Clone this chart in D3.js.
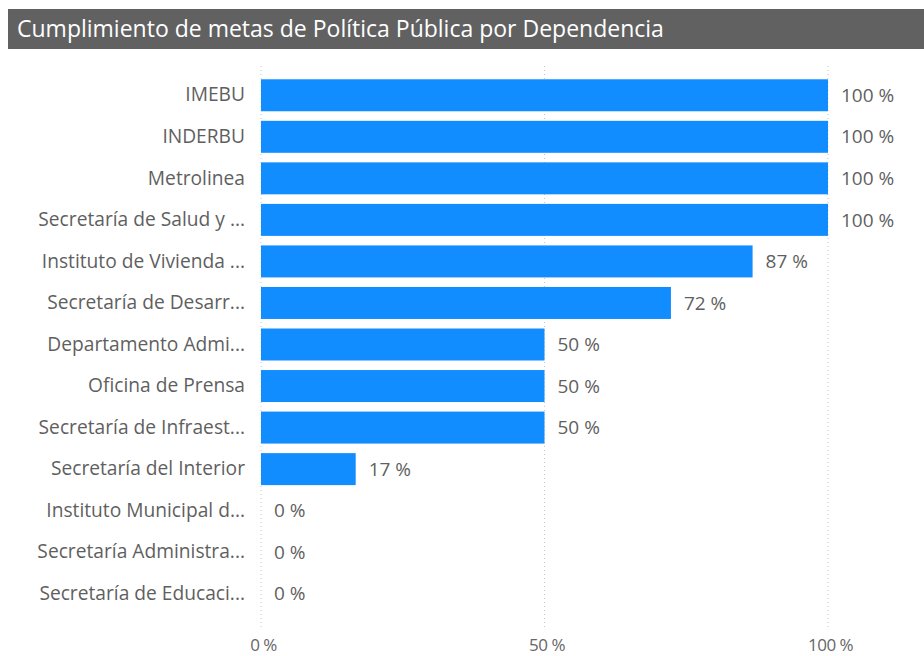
<!DOCTYPE html>
<html>
<head>
<meta charset="utf-8">
<script src="https://cdn.jsdelivr.net/npm/d3@7"></script>
<style>
  html, body { margin: 0; padding: 0; background: #fff; }
  svg { display: block; }
  text { font-family: "Open Sans", "Noto Sans", sans-serif; }
</style>
</head>
<body>
<svg id="chart" width="924" height="656"></svg>
<script>
const title = "Cumplimiento de metas de Política Pública por Dependencia";
const categories = [
  "IMEBU",
  "INDERBU",
  "Metrolinea",
  "Secretaría de Salud y ...",
  "Instituto de Vivienda ...",
  "Secretaría de Desarr...",
  "Departamento Admi...",
  "Oficina de Prensa",
  "Secretaría de Infraest...",
  "Secretaría del Interior",
  "Instituto Municipal d...",
  "Secretaría Administra...",
  "Secretaría de Educaci..."
];
const values = [100, 100, 100, 100, 86.7, 72.3, 50, 50, 50, 16.7, 0, 0, 0];
const xTicks = [0, 50, 100];

const svg = d3.select("#chart");

// Title bar
svg.append("rect")
  .attr("x", 8).attr("y", 9).attr("width", 916).attr("height", 40)
  .attr("fill", "#616161");
svg.append("text")
  .attr("x", 17).attr("y", 37)
  .attr("fill", "#ffffff")
  .attr("font-size", 23)
  .text(title);

const x = d3.scaleLinear().domain([0, 100]).range([261, 828]);
const y = d3.scaleBand().domain(categories).range([74.5, 614.5]).paddingInner(0.23).paddingOuter(0.115);

// Gridlines
svg.append("g").selectAll("line")
  .data(xTicks)
  .join("line")
  .attr("x1", d => x(d)).attr("x2", d => x(d))
  .attr("y1", 66).attr("y2", 630)
  .attr("stroke", "#c8c8c8")
  .attr("stroke-width", 1)
  .attr("stroke-dasharray", "1,3");

// Bars
svg.append("g").selectAll("rect")
  .data(values)
  .join("rect")
  .attr("x", x(0))
  .attr("y", (d, i) => y(categories[i]))
  .attr("width", d => x(d) - x(0))
  .attr("height", y.bandwidth())
  .attr("fill", "#118DFF");

// Value labels
svg.append("g").selectAll("text")
  .data(values)
  .join("text")
  .attr("x", d => x(d) + 13)
  .attr("y", (d, i) => y(categories[i]) + y.bandwidth() / 2)
  .attr("dy", "0.35em")
  .attr("font-size", 19)
  .attr("fill", "#5f5f5f")
  .text(d => Math.round(d) + " %");

// Category labels (y axis)
const yAxis = d3.axisLeft(y).tickSize(0).tickPadding(0);
const gy = svg.append("g").attr("transform", "translate(245,0)").call(yAxis);
gy.select(".domain").remove();
gy.selectAll("text").attr("font-size", 19.2).attr("fill", "#5f5f5f")
  .attr("font-family", "'Open Sans', 'Noto Sans', sans-serif");

// X axis
const xAxis = d3.axisBottom(x).tickValues(xTicks).tickSize(0).tickPadding(0).tickFormat(d => d + " %");
const gx = svg.append("g").attr("transform", "translate(2,639)").call(xAxis);
gx.select(".domain").remove();
gx.selectAll("text").attr("font-size", 17).attr("fill", "#666666").attr("letter-spacing", -0.5)
  .attr("font-family", "'Open Sans', 'Noto Sans', sans-serif");
</script>
</body>
</html>
